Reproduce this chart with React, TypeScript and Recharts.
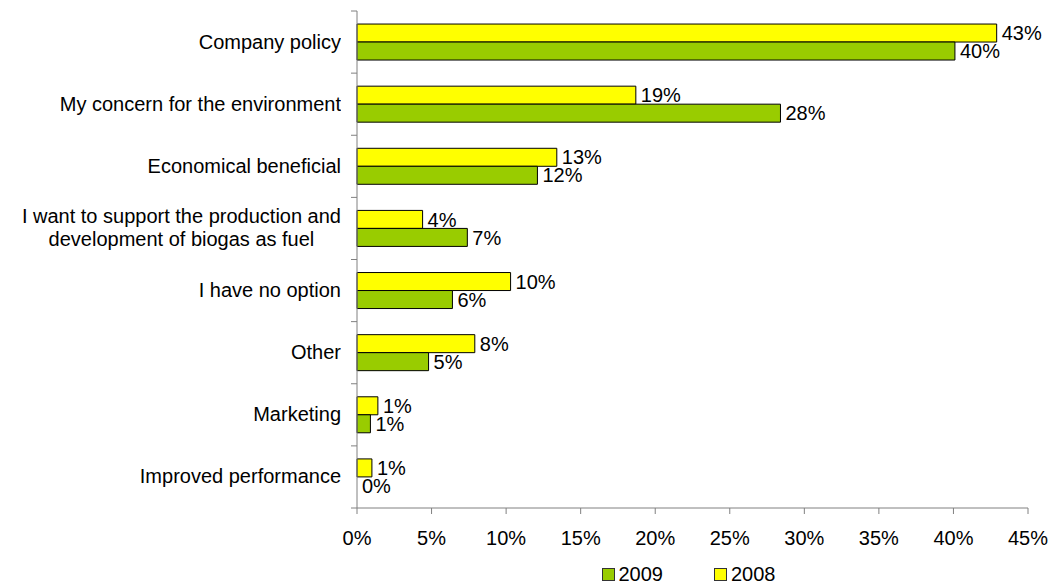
import React from "react";
import { BarChart, Bar, XAxis, YAxis, Legend, LabelList, Rectangle } from "recharts";

const categories = [
  "Company policy",
  "My concern for the environment",
  "Economical beneficial",
  "I want to support the production and\ndevelopment of biogas as fuel",
  "I have no option",
  "Other",
  "Marketing",
  "Improved performance",
];
const values2009 = [40.1, 28.4, 12.1, 7.4, 6.4, 4.8, 0.9, 0];
const values2008 = [42.9, 18.7, 13.4, 4.4, 10.3, 7.9, 1.4, 1.0];
const xTicks = [0, 5, 10, 15, 20, 25, 30, 35, 40, 45];

const FONT = "'Liberation Sans', Arial, sans-serif";
const GREEN = "#99CC00";
const YELLOW = "#FFFF00";
const AXIS = "#808080";

const W = 1052;
const H = 585;
const M = { top: 11, right: 24, left: 0, bottom: 0 };
const X_AXIS_H = 51;
const LEGEND_H = 26;
const Y_AXIS_W = 357;
const TICK_GAP = 16;
// height of one category band, for the tick marks drawn between categories
const BAND = (H - M.top - M.bottom - X_AXIS_H - LEGEND_H) / categories.length;

const data = categories.map((name, i) => ({
  name,
  y2009: values2009[i],
  y2008: values2008[i],
}));

function CategoryTick(props: any) {
  const { x, y, payload, index } = props;
  const lines = String(payload.value).split("\n");
  const ax = x + TICK_GAP;
  const last = index === categories.length - 1;
  return (
    <g>
      <line x1={ax - 6} x2={ax} y1={y - BAND / 2} y2={y - BAND / 2} stroke={AXIS} />
      {last && <line x1={ax - 6} x2={ax} y1={y + BAND / 2} y2={y + BAND / 2} stroke={AXIS} />}
      <foreignObject x={x - 400} y={y - 30} width={400} height={60}>
        <div
          style={{
            width: 400,
            height: 60,
            display: "flex",
            justifyContent: "flex-end",
            alignItems: "center",
            fontFamily: FONT,
            fontSize: 20,
            color: "#000",
          }}
        >
          <div style={{ textAlign: "center", lineHeight: "23px", whiteSpace: "nowrap" }}>
            {lines.map((l, i) => (
              <div key={i}>{l}</div>
            ))}
          </div>
        </div>
      </foreignObject>
    </g>
  );
}

function ValueLabel(props: any) {
  const { x, y, width, height, value } = props;
  const w = Number(width) < 0.5 ? 0 : Number(width);
  return (
    <text
      x={Number(x) + w + 5}
      y={Number(y) + Number(height) / 2}
      dy="0.355em"
      fill="#000"
      fontSize={20}
      fontFamily={FONT}
    >
      {`${Math.round(Number(value))}%`}
    </text>
  );
}

// zero-valued bars keep their label but draw no box
const BarShape = (props: any) =>
  Number(props.width) < 0.5 ? <g /> : <Rectangle {...props} />;

const legendItems = [
  { label: "2009", color: GREEN },
  { label: "2008", color: YELLOW },
];

function ChartLegend() {
  return (
    <div
      style={{
        height: LEGEND_H,
        boxSizing: "border-box",
        paddingTop: 7,
        paddingLeft: Y_AXIS_W - 8,
        paddingRight: M.right,
        display: "flex",
        justifyContent: "center",
        fontFamily: FONT,
        fontSize: 20,
        lineHeight: "16px",
        color: "#000",
      }}
    >
      {legendItems.map((it, i) => (
        <div
          key={it.label}
          style={{ display: "flex", alignItems: "center", height: 16, marginLeft: i ? 51 : 0 }}
        >
          <span
            style={{
              width: 11,
              height: 11,
              background: it.color,
              border: "1px solid #333",
              marginRight: 4,
              display: "inline-block",
            }}
          />
          <span>{it.label}</span>
        </div>
      ))}
    </div>
  );
}

export default function App() {
  return (
    <div style={{ position: "absolute", left: 0, top: 0, background: "#fff" }}>
      <BarChart
        width={W}
        height={H}
        data={data}
        layout="vertical"
        margin={M}
        barGap={0}
        barCategoryGap="21%"
        style={{ fontFamily: FONT }}
      >
        <XAxis
          type="number"
          domain={[0, 45]}
          ticks={xTicks}
          tickFormatter={(v) => `${v}%`}
          interval={0}
          height={X_AXIS_H}
          tickSize={6}
          tickMargin={17}
          axisLine={{ stroke: AXIS }}
          tickLine={{ stroke: AXIS }}
          tick={{ fill: "#000", fontSize: 20, fontFamily: FONT }}
        />
        <YAxis
          type="category"
          dataKey="name"
          width={Y_AXIS_W}
          axisLine={{ stroke: AXIS }}
          tickLine={false}
          tickSize={0}
          tickMargin={TICK_GAP}
          interval={0}
          tick={<CategoryTick />}
        />
        <Legend
          verticalAlign="bottom"
          content={() => <ChartLegend />}
          wrapperStyle={{ left: 0, width: W }}
        />
        <Bar dataKey="y2008" name="2008" fill={YELLOW} stroke="#000" strokeWidth={1} isAnimationActive={false}>
          <LabelList dataKey="y2008" content={<ValueLabel />} />
        </Bar>
        <Bar
          dataKey="y2009"
          name="2009"
          fill={GREEN}
          stroke="#000"
          strokeWidth={1}
          minPointSize={0.01}
          shape={BarShape}
          isAnimationActive={false}
        >
          <LabelList dataKey="y2009" content={<ValueLabel />} />
        </Bar>
      </BarChart>
    </div>
  );
}
